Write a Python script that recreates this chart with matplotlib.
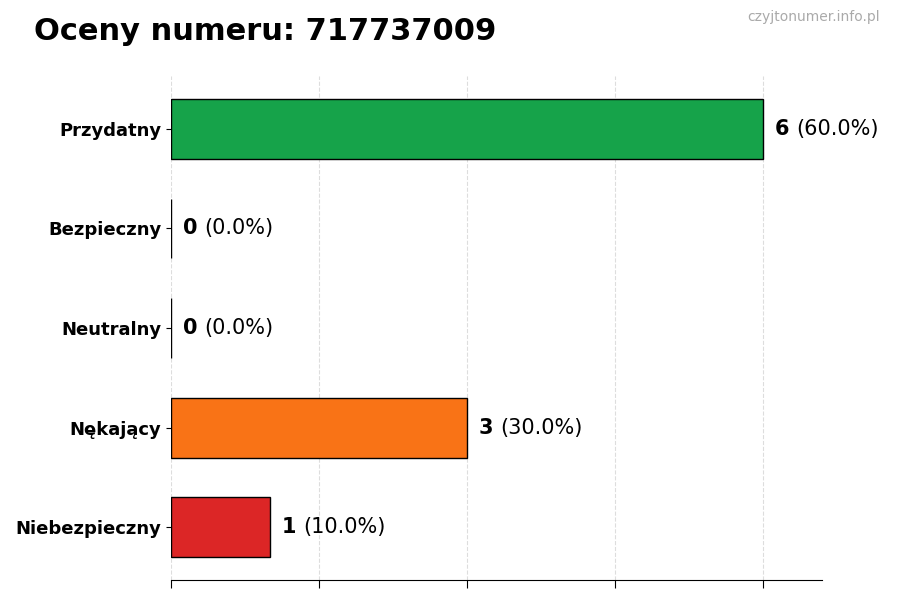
import matplotlib
matplotlib.use("Agg")

import matplotlib.pyplot as plt
import numpy as np

PHONE = "717737009"
categories = ["Przydatny", "Bezpieczny", "Neutralny", "Nękający", "Niebezpieczny"]
counts = [6, 0, 0, 3, 1]
colors = ["#16a34a", "#2563eb", "#6b7280", "#f97316", "#dc2626"]

total = sum(counts)
max_count = max(counts)

fig = plt.figure(figsize=(9, 6), dpi=100)
ax = fig.add_axes([0.19, 0.0333, 0.7233, 0.84])

y = np.arange(len(categories))[::-1]
ax.barh(y, counts, height=0.6, color=colors, edgecolor="black", linewidth=1, zorder=3)

ax.set_yticks(y)
ax.set_yticklabels(categories, fontsize=13, fontweight="bold")
ax.set_xlim(0, max_count * 1.1)
ax.set_xticks(np.linspace(0, max_count, 5))
ax.set_xticklabels([])
ax.tick_params(axis="x", length=6)
ax.grid(axis="x", linestyle="--", color="#dddddd", linewidth=0.8, zorder=0)

for side in ["top", "right", "left"]:
    ax.spines[side].set_visible(False)

# value label: bold count followed by the share in percent
for yi, c in zip(y, counts):
    t = ax.text(c + max_count * 0.02, yi, str(c), fontsize=15, fontweight="bold",
                va="center", ha="left")
    ax.annotate(f"({c / total * 100:.1f}%)", xy=(1, 0), xycoords=t,
                xytext=(5, 0), textcoords="offset points",
                fontsize=15, va="bottom", ha="left")

fig.text(0.038, 0.948, f"Oceny numeru: {PHONE}", fontsize=22, fontweight="bold",
         va="center", ha="left")
fig.text(0.978, 0.972, "czyjtonumer.info.pl", fontsize=10, color="#aaaaaa",
         va="center", ha="right")

fig.savefig("out.png", dpi=100)
